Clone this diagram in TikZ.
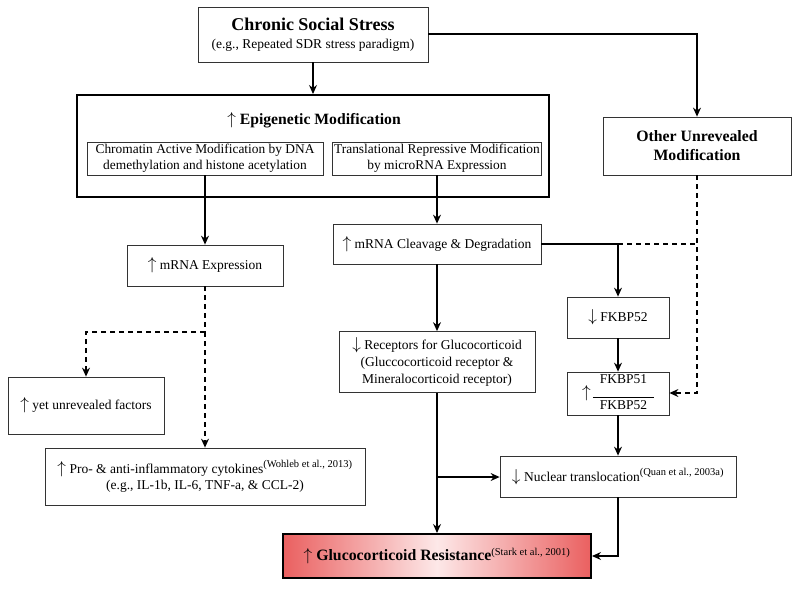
\documentclass[tikz,border=0pt]{standalone}
\usepackage{fontspec}
\setmainfont{Liberation Serif}
\usetikzlibrary{arrows.meta}
\definecolor{grred}{RGB}{234,96,96}
\definecolor{grpink}{RGB}{253,232,232}
\newcommand{\UpA}{{\fontsize{17}{17}\selectfont$\uparrow$}}
\newcommand{\DnA}{{\fontsize{17}{17}\selectfont$\downarrow$}}
\newcommand{\SupRef}[1]{\textsuperscript{\mdseries\fontsize{10.5}{11}\selectfont #1}}
\begin{document}
\begin{tikzpicture}[x=1pt,y=-1pt,
  box/.style={draw=black!80, line width=0.8pt, inner sep=0pt, align=center, font=\fontsize{13.5}{16.5}\selectfont},
  thickbox/.style={draw=black, line width=2pt, inner sep=0pt, align=center},
  conn/.style={line width=1.1pt, -{Stealth[length=9pt,width=8pt,inset=3pt]}},
  plain/.style={line width=1.1pt},
  dconn/.style={line width=1.1pt, dash pattern=on 5pt off 4pt, -{Stealth[length=9pt,width=8pt,inset=3pt]}},
  dplain/.style={line width=1.1pt, dash pattern=on 5pt off 4pt}]
\useasboundingbox (0,0) rectangle (800,592);
% nodes
\node[box, minimum width=230, minimum height=55, font=\fontsize{13.5}{18}\selectfont] (css) at (313,34.5)
  {{\fontsize{18}{18}\selectfont\bfseries Chronic Social Stress}\\(e.g., Repeated SDR stress paradigm)};
\node[thickbox, minimum width=472, minimum height=102] (epi) at (313,146) {};
\node[font=\fontsize{15.7}{18}\selectfont\bfseries, inner sep=0pt] (epit) at (314,120) {\UpA\ Epigenetic Modification};
\node[box, minimum width=236, minimum height=33, font=\fontsize{13.4}{16}\selectfont] (chrom) at (205,158.5)
  {Chromatin Active Modification by DNA\\demethylation and histone acetylation};
\node[box, minimum width=209, minimum height=33, font=\fontsize{13.4}{16}\selectfont] (trans) at (437,158.5)
  {Translational Repressive Modification\\by microRNA Expression};
\node[box, minimum width=188, minimum height=58, font=\fontsize{15.8}{19}\selectfont\bfseries] (other) at (697,146)
  {Other Unrevealed\\Modification};
\node[box, minimum width=156, minimum height=41] (mexp) at (205,265.5) {\UpA\ mRNA Expression};
\node[box, minimum width=208, minimum height=40] (cleav) at (437,244) {\UpA\ mRNA Cleavage \& Degradation};
\node[box, minimum width=156, minimum height=57] (yet) at (86,405.5) {\UpA\ yet unrevealed factors};
\node[box, minimum width=320, minimum height=57] (pro) at (205,476.5)
  {\UpA\ Pro- \& anti-inflammatory cytokines\SupRef{(Wohleb et al., 2013)}\\(e.g., IL-1b, IL-6, TNF-a, \& CCL-2)};
\node[box, minimum width=196, minimum height=61, font=\fontsize{13.5}{17}\selectfont] (rec) at (437,362)
  {\DnA\ Receptors for Glucocorticoid\\(Gluccocorticoid receptor \&\\Mineralocorticoid receptor)};
\node[box, minimum width=102, minimum height=41] (f52) at (618,317.5) {\DnA\ FKBP52};
\node[box, minimum width=102, minimum height=43] (f51) at (618,393.5)
  {$\vcenter{\hbox{\UpA}}$\,$\vcenter{\hbox{\begin{tabular}{@{}c@{}}FKBP51\\[-3pt]\rule{61pt}{0.6pt}\\[-4pt]FKBP52\end{tabular}}}$};
\node[box, minimum width=236, minimum height=41] (nuc) at (618,476.5)
  {\DnA\ Nuclear translocation\SupRef{(Quan et al., 2003a)}};
\node[thickbox, minimum width=308, minimum height=44, left color=grred, right color=grred, middle color=grpink,
  font=\fontsize{15.8}{18}\selectfont\bfseries] (gr) at (437,556)
  {\UpA\ Glucocorticoid Resistance\SupRef{(Stark et al., 2001)}};
% coordinates
\coordinate (cj) at (618,244);
\coordinate (dj) at (697,244);
\coordinate (dk) at (697,393);
\coordinate (mj) at (205,332);
\coordinate (rj) at (437,477);
\coordinate (nj) at (618,556);
\coordinate (ot) at (697,34);
% connectors
\draw[conn] (css.south) -- (epi.north);
\draw[conn] (css.east |- ot) -- (ot) -- (other.north);
\draw[conn] (chrom.south) -- (mexp.north);
\draw[conn] (trans.south) -- (cleav.north);
\draw[dplain] (mexp.south) -- (mj);
\draw[dconn] (mj) -| (yet.north);
\draw[dconn] (mj) -- (pro.north);
\draw[plain] (cleav.east |- cj) -- (cj);
\draw[conn] (cj) -- (f52.north);
\draw[dplain] (cj) -- (dj);
\draw[dconn] (other.south) -- (dk) -- (f51.east |- dk);
\draw[conn] (cleav.south) -- (rec.north);
\draw[conn] (f52.south) -- (f51.north);
\draw[conn] (f51.south) -- (nuc.north);
\draw[conn] (rec.south) -- (gr.north);
\draw[conn] (rj) -- (nuc.west |- rj);
\draw[conn] (nuc.south) -- (nj) -- (gr.east |- nj);
\end{tikzpicture}
\end{document}
